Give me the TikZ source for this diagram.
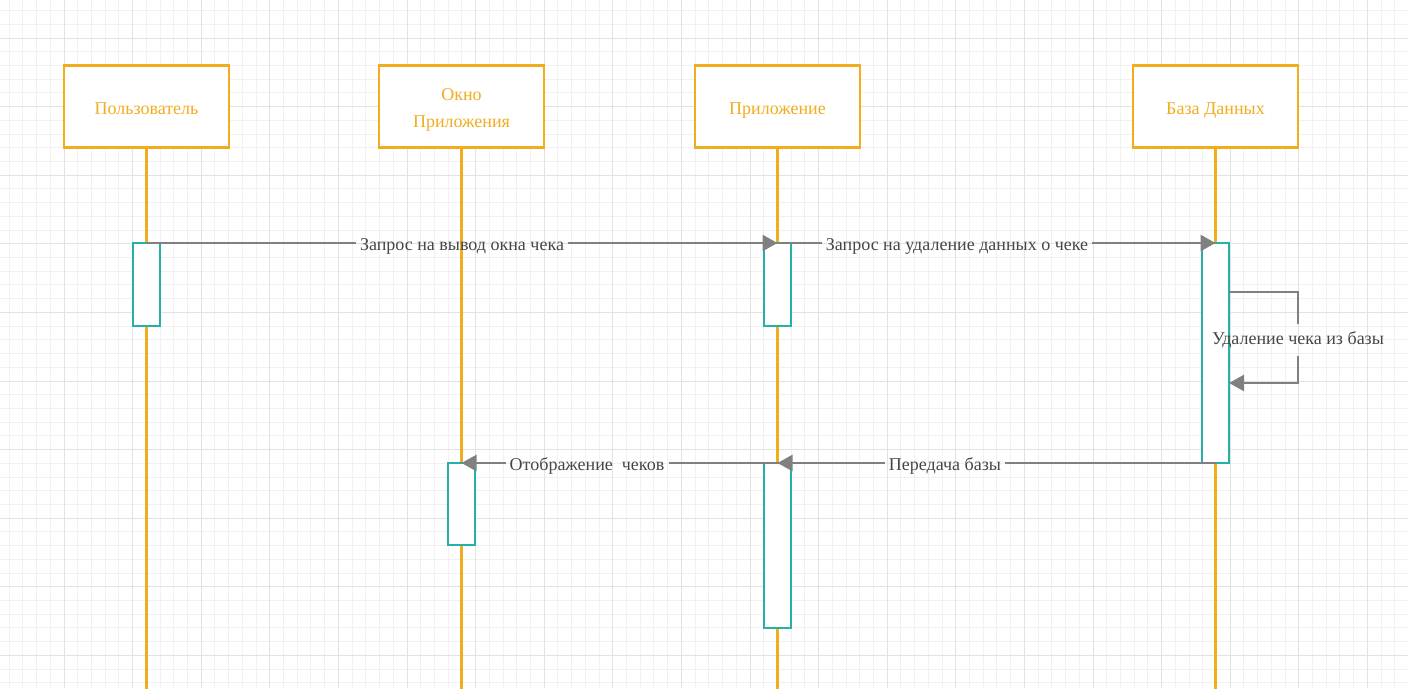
\documentclass[tikz,border=0pt]{standalone}
\usepackage{fontspec}
\setmainfont{Liberation Serif}
\usetikzlibrary{arrows.meta}
\definecolor{headorange}{RGB}{241,173,30}
\definecolor{actteal}{RGB}{38,176,170}
\definecolor{msggray}{RGB}{128,128,128}
\definecolor{lbltext}{RGB}{70,70,70}
\definecolor{gridmajor}{RGB}{226,226,226}
\definecolor{gridminor}{RGB}{241,241,241}

\begin{document}
\begin{tikzpicture}[x=1pt, y=-1pt,
        head/.style = {draw=headorange, line width=2.5pt, fill=white, minimum width=165pt, minimum height=82pt, text=headorange, align=center, font=\fontsize{18}{27}\selectfont, text height=20pt, text depth=4pt},
        act/.style = {draw=actteal, line width=2.5pt, fill=white, minimum width=27pt, inner sep=0pt, outer sep=0pt},
        life/.style = {draw=headorange, line width=2.2pt},
        msg/.style = {draw=msggray, line width=2.5pt},
        tip/.style = {-{Triangle[length=15pt,width=16pt]}},
        lbl/.style = {text=lbltext, font=\fontsize{18}{21}\selectfont, inner sep=4pt}
    ]
    \useasboundingbox (0,0) rectangle (1408,688);
    % grid
    \foreach \i in {0,...,103} {
        \draw[gridminor, line width=1pt] ({-4.6+13.72*\i},0) -- ++(0,688);
    }
    \foreach \j in {0,...,50} {
        \draw[gridminor, line width=1pt] (0,{-3.16+13.72*\j}) -- ++(1408,0);
    }
    \foreach \i in {0,...,21} {
        \draw[gridmajor, line width=1pt] ({-4.6+68.6*\i},0) -- ++(0,688);
    }
    \foreach \j in {0,...,10} {
        \draw[gridmajor, line width=1pt] (0,{-30.6+68.6*\j}) -- ++(1408,0);
    }

    % heads
    \node[head] (user) at (146.5,106.5) {Пользователь};
    \node[head, text height=46pt, text depth=] (win) at (461.5,106.5) {Окно\\Приложения};
    \node[head] (app) at (777.5,106.5) {Приложение};
    \node[head] (db) at (1215.5,106.5) {База Данных};
    \coordinate (bottom) at (0,690);

    % lifelines
    \draw[life] (user.south) -- (user.south |- bottom);
    \draw[life] (win.south) -- (win.south |- bottom);
    \draw[life] (app.south) -- (app.south |- bottom);
    \draw[life] (db.south) -- (db.south |- bottom);

    % activations
    \node[act, minimum height=83pt] (actU1) at (146.5,284.5) {};
    \node[act, minimum height=83pt] (actA1) at (777.5,284.5) {};
    \node[act, minimum height=220pt] (actD1) at (1215.5,353) {};
    \node[act, minimum height=82pt] (actW1) at (461.5,504) {};
    \node[act, minimum height=165pt] (actA2) at (777.5,545.5) {};

    % messages
    \node[lbl] (m1) at (462,246) {Запрос на вывод окна чека};
    \draw[msg] (actU1.north -| user.south) -- (actU1.north -| m1.west);
    \draw[msg,tip] (actA1.north -| m1.east) -- (actA1.north -| app.south);

    \node[lbl] (m2) at (957,246) {Запрос на удаление данных о чеке};
    \draw[msg] (actA1.north -| app.south) -- (actA1.north -| m2.west);
    \draw[msg,tip] (actD1.north -| m2.east) -- (actD1.north -| db.south);

    \node[lbl, inner ysep=8pt] (m3) at (1298,340) {Удаление чека из базы};
    \draw[msg] (actD1.east |- 0,292) -| (m3.north);
    \draw[msg,tip] (m3.south) |- (actD1.east |- 0,383);

    \node[lbl] (m4) at (945,466) {Передача базы};
    \draw[msg] (actD1.south -| db.south) -- (actD1.south -| m4.east);
    \draw[msg,tip] (actA2.north -| m4.west) -- (actA2.north -| app.south);

    \node[lbl] (m5) at (587,466) {Отображение\ \ чеков};
    \draw[msg] (actA2.north -| app.south) -- (actA2.north -| m5.east);
    \draw[msg,tip] (actW1.north -| m5.west) -- (actW1.north -| win.south);
\end{tikzpicture}
\end{document}
